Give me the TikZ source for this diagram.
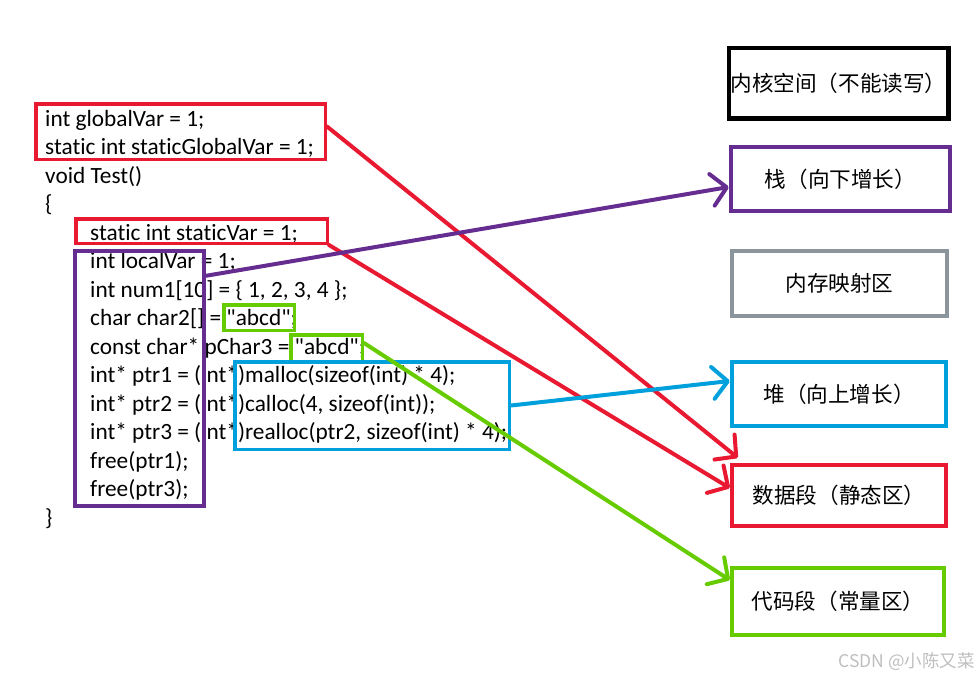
\documentclass[tikz,border=0pt]{standalone}
\usepackage{fontspec}
\setmainfont[Ligatures={NoCommon,TeXOff}]{Carlito}
\newfontfamily\cjk{Noto Sans CJK SC}
\usetikzlibrary{arrows.meta}
\definecolor{cred}{RGB}{232,25,48}
\definecolor{cpur}{RGB}{102,45,145}
\definecolor{cgrn}{RGB}{102,204,0}
\definecolor{cblu}{RGB}{0,160,220}
\definecolor{cgry}{RGB}{138,150,156}
\definecolor{cwm}{RGB}{190,190,190}
\newcommand{\dq}{\symbol{34}}
\tikzset{
  code/.style={anchor=base west, inner sep=0pt, font=\fontsize{23.3}{28.5}\selectfont},
  box/.style={draw, rectangle, line width=3.5pt, inner sep=0pt},
  seg/.style={box, line width=4pt, font=\cjk\fontsize{21.6}{26}\selectfont},
  arr/.style={line width=4pt, line cap=round, line join=round, -{Straight Barb[length=15pt,width=32pt,line cap=round,line join=round]}}
}
\begin{document}
\begin{tikzpicture}[x=1pt,y=-1pt]
\useasboundingbox (0,0) rectangle (980,680);
% code lines
\node[code] (l0) at (45,126) {int globalVar = 1;};
\node[code] (l1) at (45,154.5) {static int staticGlobalVar = 1;};
\node[code] (l2) at (45,183) {void Test()};
\node[code] (l3) at (45,211.5) {\{};
\node[code] (l4) at (90,240) {static int staticVar = 1;};
\node[code] (l5) at (90,268.5) {int localVar = 1;};
\node[code] (l6) at (90,297) {int num1[10] = \{ 1, 2, 3, 4 \};};
\node[code] (l7) at (90,325.5) {char char2[] = \dq abcd\dq;};
\node[code] (l8) at (90,354) {const char* pChar3 = \dq abcd\dq;};
\node[code] (l9) at (90,382.5) {int* ptr1 = (int*)malloc(sizeof(int) * 4);};
\node[code] (l10) at (90,411) {int* ptr2 = (int*)calloc(4, sizeof(int));};
\node[code] (l11) at (90,439.5) {int* ptr3 = (int*)realloc(ptr2, sizeof(int) * 4);};
\node[code] (l12) at (90,468) {free(ptr1);};
\node[code] (l13) at (90,496.5) {free(ptr3);};
\node[code] (l14) at (45,525) {\}};
% code boxes
\node[box, draw=cred, minimum width=289.5pt, minimum height=55.5pt] (rb1) at (180.5,131.5) {};
\node[box, draw=cred, minimum width=251.5pt, minimum height=24.5pt] (rb2) at (201.5,231) {};
\node[box, draw=cpur, line width=4pt, minimum width=129.5pt, minimum height=255.5pt] (pb) at (139.5,378.5) {};
\node[box, draw=cgrn, minimum width=70.5pt, minimum height=25.5pt] (gb1) at (259,317.5) {};
\node[box, draw=cgrn, minimum width=71.5pt, minimum height=26.5pt] (gb2) at (326.5,348) {};
\node[box, draw=cblu, minimum width=274.5pt, minimum height=87.5pt] (bb) at (372,405.5) {};
% memory segments
\node[seg, draw=black, line width=4.5pt, minimum width=219.5pt, minimum height=70.5pt] (kern) at (838.5,83) {\makebox[0pt]{内核空间（不能读写）}};
\node[seg, draw=cpur, minimum width=219.5pt, minimum height=64.5pt] (stk) at (840.5,179) {\makebox[0pt]{栈（向下增长）}};
\node[seg, draw=cgry, minimum width=215.5pt, minimum height=65.5pt] (mmap) at (839.5,283.5) {\makebox[0pt]{内存映射区}};
\node[seg, draw=cblu, minimum width=214.5pt, minimum height=64.5pt] (heap) at (839,394) {\makebox[0pt]{堆（向上增长）}};
\node[seg, draw=cred, minimum width=214.5pt, minimum height=61.5pt] (ds) at (839,495.5) {\makebox[0pt]{数据段（静态区）}};
\node[seg, draw=cgrn, minimum width=212.5pt, minimum height=67.5pt] (cs) at (838,601.5) {\makebox[0pt]{代码段（常量区）}};
% connectors
\draw[arr, cred] ([yshift=5pt]rb1.east) -- ([shift={(8pt,5pt)}]ds.north west);
\draw[arr, cred] (rb2.south east) -- ([yshift=7.5pt]ds.west);
\draw[arr, cpur] ([yshift=-27pt]pb.north east) -- ([yshift=-8pt]stk.west);
\draw[arr, cblu] (bb.east) -- ([yshift=13pt]heap.west);
\draw[arr, cgrn] ([yshift=5pt]gb2.east) -- ([yshift=21.5pt]cs.west);
% watermark
\node[anchor=east, inner sep=0pt, text=cwm, font=\cjk\fontsize{17.5}{20}\selectfont] (wm) at (975,662) {CSDN @小陈又菜};
\end{tikzpicture}
\end{document}
